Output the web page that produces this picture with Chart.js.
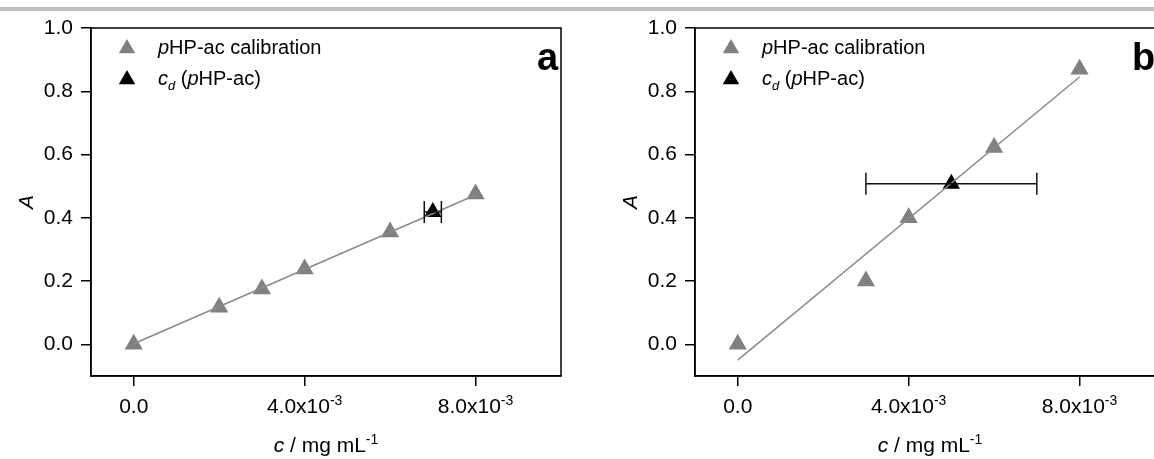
<!DOCTYPE html>
<html>
<head>
<meta charset="utf-8">
<script src="https://cdn.jsdelivr.net/npm/chart.js@4.4.0/dist/chart.umd.min.js"></script>
<style>
  html, body { margin: 0; padding: 0; background: #fff; overflow: hidden; }
  body { width: 1154px; height: 459px; position: relative; }
  #bar { position: absolute; left: 0; top: 7px; width: 1154px; height: 4px; background: #c0c0c0; }
  canvas { position: absolute; top: 0; }
  #chartA { left: 0; }
  #chartB { left: 604px; }
</style>
</head>
<body>
<div id="bar"></div>
<canvas id="chartA" width="577" height="459"></canvas>
<canvas id="chartB" width="577" height="459"></canvas>
<script>
// shared axis ticks
const xTicks = [0, 0.004, 0.008];
const xTickLabels = [['0.0', ''], ['4.0x10', '-3'], ['8.0x10', '-3']];
const yTicks = [0, 0.2, 0.4, 0.6, 0.8, 1.0];

// panel a : calibration points, fit line, determined concentration
const concA = [0, 0.002, 0.003, 0.004, 0.006, 0.008];
const absA = [0.0, 0.117, 0.175, 0.238, 0.355, 0.475];
const fitXA = [0, 0.008];
const fitYA = [0.002, 0.472];
const cdXA = [0.007];
const cdYA = [0.418];
const cdErrA = [0.0002];

// panel b
const concB = [0, 0.003, 0.004, 0.006, 0.008];
const absB = [0.0, 0.2, 0.4, 0.622, 0.87];
const fitXB = [0, 0.008];
const fitYB = [-0.05, 0.845];
const cdXB = [0.005];
const cdYB = [0.508];
const cdErrB = [0.002];

const FONT = "'Liberation Sans', Arial, sans-serif";
const GREY = '#808080';

// draw a list of text runs {t, it, sup, sub} starting at x, baseline y
function runsWidth(ctx, runs, size) {
  let w = 0;
  runs.forEach(r => {
    const s = (r.sup || r.sub) ? Math.round(size * 0.65) : size;
    ctx.font = (r.it ? 'italic ' : '') + s + 'px ' + FONT;
    w += ctx.measureText(r.t).width;
  });
  return w;
}
function drawRuns(ctx, runs, x, y, size) {
  ctx.textAlign = 'left';
  ctx.textBaseline = 'alphabetic';
  runs.forEach(r => {
    const s = (r.sup || r.sub) ? Math.round(size * 0.65) : size;
    ctx.font = (r.it ? 'italic ' : '') + s + 'px ' + FONT;
    let dy = 0;
    if (r.sup) dy = -size * 0.4;
    if (r.sub) dy = size * 0.25;
    ctx.fillText(r.t, x, y + dy);
    x += ctx.measureText(r.t).width;
  });
}

function makeChart(id, letter, letterX, cal, fit, cd) {
  const extras = {
    id: 'extras' + letter,
    afterDatasetsDraw(chart) {
      const ctx = chart.ctx, xs = chart.scales.x, ys = chart.scales.y;
      ctx.save();
      ctx.strokeStyle = '#111';
      ctx.lineWidth = 1.5;
      cd.x.forEach((v, i) => {
        const y = ys.getPixelForValue(cd.y[i]);
        const x1 = xs.getPixelForValue(v - cd.err[i]);
        const x2 = xs.getPixelForValue(v + cd.err[i]);
        ctx.beginPath();
        ctx.moveTo(x1, y); ctx.lineTo(x2, y);
        ctx.moveTo(x1, y - 11); ctx.lineTo(x1, y + 11);
        ctx.moveTo(x2, y - 11); ctx.lineTo(x2, y + 11);
        ctx.stroke();
      });
      ctx.restore();
    },
    afterDraw(chart) {
      const ctx = chart.ctx, a = chart.chartArea, xs = chart.scales.x;
      ctx.save();
      // frame
      ctx.strokeStyle = '#000';
      ctx.lineWidth = 1.5;
      ctx.strokeRect(a.left, a.top, a.right - a.left, a.bottom - a.top);
      ctx.fillStyle = '#000';
      // x tick labels with superscript
      xTicks.forEach((v, i) => {
        const runs = [{ t: xTickLabels[i][0] }];
        if (xTickLabels[i][1]) runs.push({ t: xTickLabels[i][1], sup: true });
        const w = runsWidth(ctx, runs, 21);
        drawRuns(ctx, runs, xs.getPixelForValue(v) - w / 2, 413, 21);
      });
      // x title
      const title = [{ t: 'c', it: true }, { t: ' / mg mL' }, { t: '-1', sup: true }];
      const tw = runsWidth(ctx, title, 21);
      drawRuns(ctx, title, (a.left + a.right) / 2 - tw / 2, 452, 21);
      // legend
      const lx = a.left + 36;
      ctx.fillStyle = GREY;
      Chart.helpers.drawPoint(ctx, { pointStyle: 'triangle', radius: 9.5, rotation: 0, borderWidth: 0 }, lx, 48.5);
      ctx.fillStyle = '#000';
      Chart.helpers.drawPoint(ctx, { pointStyle: 'triangle', radius: 9.5, rotation: 0, borderWidth: 0 }, lx, 79.5);
      drawRuns(ctx, [{ t: 'p', it: true }, { t: 'HP-ac calibration' }], a.left + 67, 54, 20);
      drawRuns(ctx, [{ t: 'c', it: true }, { t: 'd', it: true, sub: true }, { t: ' (' }, { t: 'p', it: true }, { t: 'HP-ac)' }], a.left + 67, 85, 20);
      // panel letter
      ctx.font = 'bold 38px ' + FONT;
      ctx.textAlign = 'left';
      ctx.fillText(letter, letterX, 70);
      ctx.restore();
    }
  };

  return new Chart(document.getElementById(id), {
    type: 'scatter',
    data: {
      datasets: [
        {
          label: 'fit',
          data: fit.x.map((x, i) => ({ x: x, y: fit.y[i] })),
          showLine: true,
          borderColor: '#8a8a8a',
          borderWidth: 1.5,
          pointRadius: 0,
          order: 0
        },
        {
          label: 'cd (pHP-ac)',
          data: cd.x.map((x, i) => ({ x: x, y: cd.y[i] })),
          pointStyle: 'triangle',
          pointRadius: 10,
          backgroundColor: '#000',
          borderColor: '#000',
          borderWidth: 0,
          order: 1
        },
        {
          label: 'pHP-ac calibration',
          data: cal.x.map((x, i) => ({ x: x, y: cal.y[i] })),
          pointStyle: 'triangle',
          pointRadius: 10.5,
          backgroundColor: GREY,
          borderColor: GREY,
          borderWidth: 0,
          order: 2
        }
      ]
    },
    options: {
      responsive: false,
      animation: false,
      events: [],
      layout: { padding: { top: 28, right: 16, left: 0, bottom: 0 } },
      plugins: { legend: { display: false }, tooltip: { enabled: false } },
      scales: {
        x: {
          type: 'linear',
          min: -0.001,
          max: 0.010,
          afterBuildTicks: s => { s.ticks = xTicks.map(v => ({ value: v })); },
          afterFit: s => { s.height = 83; },
          ticks: { display: false },
          grid: { drawOnChartArea: false, drawTicks: true, tickLength: 10, color: '#000', lineWidth: 1.5 },
          border: { display: true, color: '#000', width: 1.5 }
        },
        y: {
          min: -0.1,
          max: 1.0,
          afterBuildTicks: s => { s.ticks = yTicks.map(v => ({ value: v })); },
          afterFit: s => { s.width = 91; },
          ticks: {
            callback: v => v.toFixed(1),
            color: '#000',
            padding: 8,
            font: { family: FONT, size: 21 }
          },
          grid: { drawOnChartArea: false, drawTicks: true, tickLength: 10, color: '#000', lineWidth: 1.5 },
          border: { display: true, color: '#000', width: 1.5 },
          title: {
            display: true,
            text: 'A',
            color: '#000',
            font: { family: FONT, size: 21, style: 'italic' },
            padding: { top: 15, bottom: 0 }
          }
        }
      }
    },
    plugins: [extras]
  });
}

makeChart('chartA', 'a', 537,
  { x: concA, y: absA }, { x: fitXA, y: fitYA }, { x: cdXA, y: cdYA, err: cdErrA });
makeChart('chartB', 'b', 528,
  { x: concB, y: absB }, { x: fitXB, y: fitYB }, { x: cdXB, y: cdYB, err: cdErrB });
</script>
</body>
</html>
